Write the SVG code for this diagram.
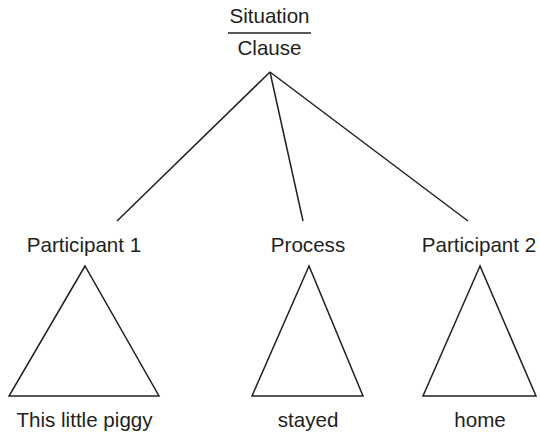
<svg xmlns="http://www.w3.org/2000/svg" width="540" height="434" viewBox="0 0 540 434">
<style>
text{font-family:"Liberation Sans",Arial,sans-serif;font-size:20.6px;fill:#231f20;text-anchor:middle}
.l{stroke:#231f20;stroke-width:1.5;fill:none}
</style>
<rect width="540" height="434" fill="#fff"/>
<g id="root">
<text x="269.5" y="23">Situation</text>
<line class="l" x1="228" y1="33" x2="311" y2="33"/>
<text x="269.5" y="55">Clause</text>
</g>
<g id="connectors">
<line class="l" x1="270" y1="72" x2="117" y2="221"/>
<line class="l" x1="270" y1="72" x2="303" y2="221"/>
<line class="l" x1="270" y1="72" x2="468" y2="221"/>
</g>
<g id="participant1">
<text x="84" y="252">Participant 1</text>
<polygon class="l" points="85,266 9,396 159,396"/>
<text x="84.5" y="427">This little piggy</text>
</g>
<g id="process">
<text x="308" y="252">Process</text>
<polygon class="l" points="309,266 252,396 363,396"/>
<text x="308" y="427">stayed</text>
</g>
<g id="participant2">
<text x="479" y="252">Participant 2</text>
<polygon class="l" points="480,266 423,396 536,396"/>
<text x="480" y="427">home</text>
</g>
</svg>
